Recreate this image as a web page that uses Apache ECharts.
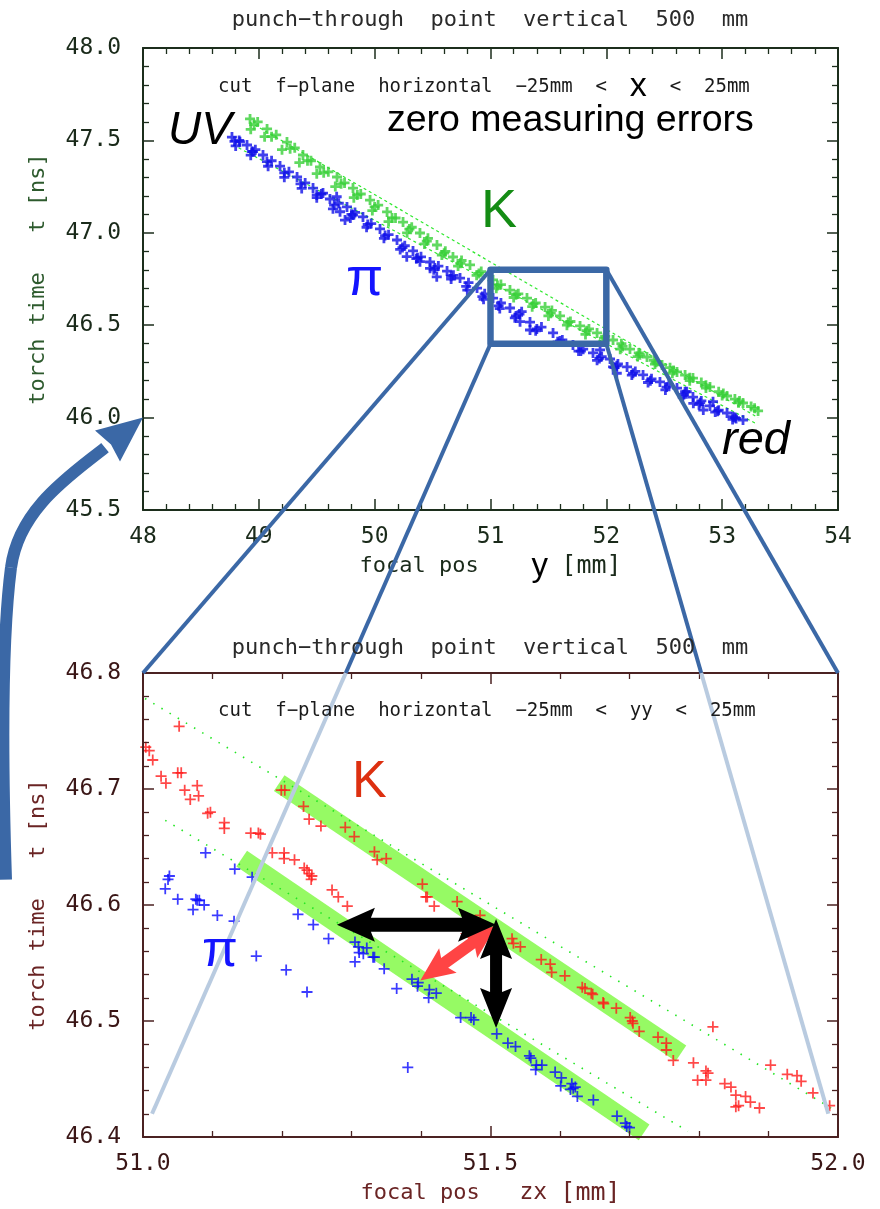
<!DOCTYPE html>
<html><head><meta charset="utf-8">
<script src="https://cdn.jsdelivr.net/npm/echarts@6/dist/echarts.min.js"></script>
<style>html,body{margin:0;padding:0;background:#fff}#c{width:880px;height:1209px}</style>
</head><body><div id="c"></div>
<script>
// ---------- DATA (top chart: full range, focal pos y) ----------
const kTopMain = [[48.924,47.616],[49.071,47.562],[49.243,47.491],[49.381,47.421],[49.528,47.356],[49.675,47.302],[49.813,47.242],[49.960,47.177],[50.107,47.113],[50.245,47.058],[50.391,46.999],[50.538,46.934],[50.676,46.869],[50.823,46.826],[51.022,46.745],[51.168,46.690],[51.315,46.647],[51.471,46.598],[51.600,46.550],[51.773,46.496],[51.920,46.458],[52.058,46.420],[52.204,46.371],[52.351,46.328],[52.481,46.285],[52.610,46.247],[52.748,46.214],[52.895,46.166],[53.042,46.117],[53.180,46.079],[53.310,46.036]];
const kTopFill = [[48.99,47.60],[49.15,47.53],[49.31,47.46],[49.45,47.39],[49.60,47.33],[49.74,47.27],[49.88,47.21],[50.03,47.15],[50.18,47.08],[50.32,47.03],[50.46,46.97],[50.61,46.90],[50.75,46.85],[50.92,46.79],[51.09,46.72],[51.24,46.67],[51.39,46.62],[51.53,46.58],[51.69,46.52],[51.85,46.48],[51.99,46.44],[52.13,46.40],[52.28,46.35],[52.41,46.31],[52.55,46.27],[52.68,46.23],[52.82,46.19],[52.97,46.14],[53.11,46.10],[53.25,46.06]];
const kTopMid = [[48.96,47.585],[49.11,47.52],[49.27,47.455],[49.42,47.39],[49.56,47.325],[49.71,47.265],[49.85,47.205],[50.00,47.14],[50.15,47.08],[50.30,47.02],[50.45,46.955],[50.60,46.89],[50.74,46.835],[50.90,46.78],[51.06,46.715],[51.22,46.665],[51.37,46.615],[51.52,46.565],[51.67,46.515],[51.83,46.47],[51.98,46.43],[52.14,46.385],[52.29,46.34],[52.43,46.30],[52.58,46.255],[52.72,46.215],[52.86,46.175],[53.01,46.13],[53.15,46.09],[53.28,46.05]];
const kTopLower = [[48.93,47.56],[49.05,47.52],[49.20,47.45],[49.35,47.38],[49.50,47.32],[49.66,47.25],[49.82,47.19],[49.98,47.12],[50.12,47.06],[50.28,47.00],[50.43,46.94],[50.58,46.88],[50.72,46.82],[50.88,46.77],[51.05,46.70],[51.20,46.65],[51.36,46.60],[51.50,46.55],[51.66,46.50],[51.82,46.45],[51.97,46.41],[52.12,46.37],[52.27,46.33],[52.42,46.29],[52.57,46.24],[52.72,46.20],[52.86,46.16],[53.00,46.12],[53.14,46.08]];
const piTopMain = [[48.768,47.518],[48.898,47.475],[49.036,47.421],[49.183,47.361],[49.330,47.302],[49.468,47.242],[49.614,47.183],[49.761,47.140],[49.899,47.086],[50.046,47.021],[50.193,46.961],[50.331,46.902],[50.478,46.842],[50.625,46.793],[50.737,46.755],[50.884,46.701],[51.022,46.647],[51.168,46.593],[51.341,46.517],[51.540,46.458],[51.712,46.393],[51.885,46.350],[52.032,46.317],[52.179,46.274],[52.317,46.231],[52.463,46.193],[52.610,46.160],[52.748,46.111],[52.895,46.063],[53.042,46.025],[53.180,45.987]];
const piTopFill = [[48.83,47.50],[48.97,47.45],[49.11,47.39],[49.26,47.33],[49.40,47.27],[49.54,47.21],[49.69,47.16],[49.83,47.11],[49.97,47.05],[50.12,46.99],[50.26,46.93],[50.40,46.87],[50.55,46.82],[50.68,46.77],[50.81,46.73],[50.95,46.67],[51.09,46.62],[51.25,46.56],[51.44,46.49],[51.62,46.42],[51.80,46.37],[51.96,46.33],[52.10,46.29],[52.25,46.25],[52.39,46.21],[52.54,46.18],[52.68,46.14],[52.82,46.09],[52.97,46.04],[53.11,46.00]];
const piTopMid = [[48.79,47.495],[48.94,47.44],[49.07,47.385],[49.22,47.325],[49.36,47.265],[49.50,47.205],[49.65,47.15],[49.80,47.10],[49.94,47.045],[50.09,46.985],[50.24,46.92],[50.37,46.865],[50.52,46.81],[50.66,46.765],[50.79,46.71],[50.93,46.655],[51.07,46.605],[51.22,46.55],[51.40,46.48],[51.60,46.415],[51.78,46.36],[51.94,46.32],[52.09,46.28],[52.23,46.24],[52.38,46.20],[52.52,46.165],[52.67,46.125],[52.81,46.08],[52.96,46.035],[53.12,45.995]];
const piTopLower = [[48.80,47.47],[48.93,47.42],[49.08,47.36],[49.22,47.30],[49.37,47.24],[49.50,47.19],[49.64,47.13],[49.79,47.08],[49.93,47.03],[50.08,46.97],[50.22,46.91],[50.36,46.86],[50.51,46.80],[50.66,46.75],[50.80,46.69],[50.94,46.64],[51.08,46.59],[51.21,46.54],[51.39,46.47],[51.58,46.41],[51.76,46.36],[51.92,46.31],[52.07,46.27],[52.22,46.23],[52.36,46.19],[52.51,46.15],[52.66,46.11],[52.80,46.07],[52.94,46.03],[53.09,45.99]];
const piTopOut = [[48.950,47.439],[48.837,47.493],[49.554,47.215],[49.672,47.195],[49.744,47.069],[49.701,47.114],[49.813,47.096],[50.277,46.871],[50.391,46.844],[50.536,46.762],[50.478,46.808],[51.255,46.519],[51.341,46.474],[51.269,46.573],[51.946,46.366],[52.058,46.275],[52.090,46.240],[52.694,46.140],[52.751,46.077],[52.837,46.041],[52.921,46.086],[53.094,46.005]];
const topGuide1 = [[48.78,47.475],[53.30,45.965]];
const topGuide2 = [[48.92,47.60],[53.31,46.00]];
const zoomBox = [[51,46.8],[52,46.8],[52,46.4],[51,46.4],[51,46.8]];

// ---------- DATA (bottom chart: zoom 51-52 mm, focal pos zx) ----------
const kZoom = [[51.052,46.754],[51.004,46.736],[51.009,46.733],[51.014,46.725],[51.026,46.711],[51.033,46.705],[51.050,46.714],[51.055,46.714],[51.060,46.699],[51.078,46.703],[51.080,46.694],[51.068,46.691],[51.093,46.679],[51.097,46.680],[51.117,46.671],[51.117,46.666],[51.155,46.662],[51.166,46.662],[51.169,46.661],[51.186,46.645],[51.203,46.645],[51.203,46.640],[51.218,46.639],[51.232,46.632],[51.236,46.630],[51.239,46.627],[51.243,46.625],[51.242,46.622],[51.272,46.613],[51.281,46.607],[51.294,46.599],
 [51.199,46.699],[51.204,46.699],[51.231,46.685],[51.239,46.674],[51.256,46.668],[51.291,46.667],[51.304,46.659],[51.333,46.646],[51.337,46.639],[51.350,46.640],[51.402,46.618],[51.407,46.607],[51.409,46.607],[51.419,46.599],[51.452,46.603],[51.485,46.591],[51.531,46.571],[51.533,46.567],[51.543,46.564],[51.573,46.553],[51.586,46.549],[51.588,46.542],[51.607,46.539],[51.632,46.529],[51.636,46.528],[51.645,46.524],[51.647,46.523],[51.662,46.516],[51.663,46.515],[51.681,46.511],[51.701,46.503],[51.704,46.500],[51.705,46.498],[51.714,46.491],[51.741,46.486],[51.753,46.481],[51.753,46.475],[51.763,46.466],
 [51.792,46.464],[51.820,46.495],[51.810,46.457],[51.813,46.455],[51.798,46.449],[51.810,46.449],[51.837,46.446],[51.846,46.443],[51.853,46.436],[51.867,46.435],[51.874,46.430],[51.853,46.426],[51.857,46.427],[51.887,46.425],[51.903,46.462],[51.927,46.454],[51.941,46.453],[51.947,46.448],[51.964,46.438],[51.988,46.427]];
const piZoom = [[51.090,46.645],[51.132,46.631],[51.157,46.624],[51.038,46.625],[51.036,46.622],[51.032,46.614],[51.050,46.605],[51.076,46.605],[51.078,46.604],[51.081,46.604],[51.088,46.600],[51.072,46.596],[51.107,46.591],[51.131,46.586],[51.223,46.592],[51.245,46.583],[51.267,46.571],[51.305,46.568],[51.310,46.564],[51.311,46.559],[51.322,46.563],[51.317,46.558],[51.305,46.551],[51.331,46.555],[51.333,46.555],[51.347,46.545],[51.163,46.556],[51.206,46.544],[51.236,46.525],[51.365,46.528],[51.387,46.536],[51.396,46.533],[51.395,46.530],[51.412,46.527],[51.422,46.524],[51.411,46.520],[51.381,46.460],[51.457,46.503],[51.472,46.503],[51.476,46.501],[51.509,46.489],[51.525,46.481],[51.536,46.478],[51.556,46.470],[51.558,46.468],[51.566,46.462],[51.565,46.458],[51.574,46.462],[51.593,46.456],[51.602,46.451],[51.601,46.444],[51.617,46.446],[51.619,46.442],[51.615,46.441],[51.622,46.443],[51.625,46.435],[51.648,46.432],[51.682,46.418],[51.694,46.412],[51.696,46.409],[51.700,46.408]];
const kBand = [[51.196,46.705],[51.774,46.472]];
const piBand = [[51.142,46.640],[51.721,46.404]];
const guide1 = [[51.003,46.778],[51.990,46.425]];
const guide2 = [[51.032,46.673],[51.784,46.405]];
const arrowH = [[51.279,46.583],[51.508,46.583]];
const arrowV = [[51.508,46.588],[51.508,46.494]];
const arrowR = [[51.508,46.582],[51.399,46.535]];
// connectors: zoom box corners (top chart) -> points of the bottom chart
const connFrom = [[51,46.8],[51,46.4],[52,46.4],[52,46.8]];
const connTo = [[51.0,46.8],[51.013,46.42],[51.986,46.42],[52.0,46.8]];

// ---------- TICK LABELS ----------
const fmt1 = v => v.toFixed(1);
const fmt0 = v => v.toFixed(0);

const MONO = '"DejaVu Sans Mono", monospace';
const SANS = '"Liberation Sans", Arial, sans-serif';
const TOPC = '#1c2e1c', BOTC = '#4b2222';
const PLUS = 'path://M4.2,0H5.8V4.2H10V5.8H5.8V10H4.2V5.8H0V4.2H4.2Z';
const PLUSB = 'path://M3.6,0H6.4V3.6H10V6.4H6.4V10H3.6V6.4H0V3.6H3.6Z';

function ax(o) {
  return {
    type: 'value', gridIndex: o.g, min: o.min, max: o.max, interval: o.iv, position: o.pos,
    axisLine: {show: true, onZero: false, lineStyle: {color: o.c, width: 2}},
    axisTick: {show: true, inside: true, length: 11, lineStyle: {color: o.c, width: 1.5}},
    minorTick: {show: true, splitNumber: 5, length: 6, lineStyle: {color: o.c, width: 1.3}},
    splitLine: {show: false}, minorSplitLine: {show: false},
    axisLabel: {show: !!o.label, color: o.lc, fontFamily: MONO, fontSize: 23, margin: o.margin || 14, formatter: o.fmt,
      showMinLabel: true, showMaxLabel: true},
    name: o.name || '', nameLocation: 'middle', nameGap: o.gap || 0, nameTextStyle: o.nts || {},
    z: 10
  };
}

const chart = echarts.init(document.getElementById('c'), null, {renderer: 'canvas'});

const option = {
  animation: false,
  backgroundColor: '#fff',
  grid: [
    {left: 143, top: 48, width: 695, height: 462},
    {left: 143, top: 673, width: 695, height: 464}
  ],
  xAxis: [
    ax({g: 0, min: 48, max: 54, iv: 1, pos: 'bottom', c: TOPC, label: true, lc: '#1a2a1a', fmt: fmt0, margin: 16,
        name: 'focal pos    {b|y} {c|[mm]}', gap: 40,
        nts: {fontFamily: MONO, fontSize: 22, color: '#1a2a1a',
              rich: {b: {fontFamily: SANS, fontSize: 33, color: '#000'}, c: {fontFamily: MONO, fontSize: 25, color: '#1a2a1a'}}}}),
    ax({g: 0, min: 48, max: 54, iv: 1, pos: 'top', c: TOPC}),
    ax({g: 1, min: 51, max: 52, iv: 0.5, pos: 'bottom', c: BOTC, label: true, lc: '#3a1616', fmt: fmt1, margin: 16,
        name: 'focal pos   {z|zx} {c|[mm]}', gap: 44,
        nts: {fontFamily: MONO, fontSize: 22, color: '#6a2424',
              rich: {z: {fontFamily: MONO, fontSize: 23, color: '#6a2424'}, c: {fontFamily: MONO, fontSize: 25, color: '#6a2424'}}}}),
    ax({g: 1, min: 51, max: 52, iv: 0.5, pos: 'top', c: BOTC})
  ],
  yAxis: [
    ax({g: 0, min: 45.5, max: 48, iv: 0.5, pos: 'left', c: TOPC, label: true, lc: '#1a2a1a', fmt: fmt1, margin: 22,
        name: 'torch time   t [ns]', gap: 94, nts: {fontFamily: MONO, fontSize: 22, color: '#2d5a2d'}}),
    ax({g: 0, min: 45.5, max: 48, iv: 0.5, pos: 'right', c: TOPC}),
    ax({g: 1, min: 46.4, max: 46.8, iv: 0.1, pos: 'left', c: BOTC, label: true, lc: '#3a1616', fmt: fmt1, margin: 22,
        name: 'torch time   t [ns]', gap: 94, nts: {fontFamily: MONO, fontSize: 22, color: '#6a2424'}}),
    ax({g: 1, min: 46.4, max: 46.8, iv: 0.1, pos: 'right', c: BOTC})
  ],
  series: [
    // top chart
    {type: 'line', xAxisIndex: 0, yAxisIndex: 0, data: topGuide1, showSymbol: false, silent: true, z: 1,
     lineStyle: {color: '#2ee82e', width: 1.2, type: [3, 3]}},
    {type: 'line', xAxisIndex: 0, yAxisIndex: 0, data: topGuide2, showSymbol: false, silent: true, z: 1,
     lineStyle: {color: '#2ee82e', width: 1.2, type: [3, 3]}},
    {type: 'scatter', xAxisIndex: 0, yAxisIndex: 0, data: kTopMain.concat(kTopFill, kTopMid, kTopLower), symbol: PLUSB, symbolSize: 10,
     itemStyle: {color: '#38d038'}, z: 3},
    {type: 'scatter', xAxisIndex: 0, yAxisIndex: 0, data: piTopMain.concat(piTopFill, piTopMid, piTopLower, piTopOut), symbol: PLUSB, symbolSize: 10,
     itemStyle: {color: '#1010e8'}, z: 4},
    {type: 'line', xAxisIndex: 0, yAxisIndex: 0, data: zoomBox, showSymbol: false, silent: true, z: 20,
     lineStyle: {color: '#3b68a6', width: 6.5, join: 'round', cap: 'round'}},
    // bottom chart
    {type: 'line', xAxisIndex: 2, yAxisIndex: 2, data: kBand, showSymbol: false, silent: true, z: 1,
     lineStyle: {color: '#96fa64', width: 19, cap: 'butt'}},
    {type: 'line', xAxisIndex: 2, yAxisIndex: 2, data: piBand, showSymbol: false, silent: true, z: 1,
     lineStyle: {color: '#96fa64', width: 19, cap: 'butt'}},
    {type: 'line', xAxisIndex: 2, yAxisIndex: 2, data: guide1, showSymbol: false, silent: true, z: 2,
     lineStyle: {color: '#22e622', width: 1.6, type: [1.5, 8]}},
    {type: 'line', xAxisIndex: 2, yAxisIndex: 2, data: guide2, showSymbol: false, silent: true, z: 2,
     lineStyle: {color: '#22e622', width: 1.6, type: [1.5, 8]}},
    {type: 'scatter', xAxisIndex: 2, yAxisIndex: 2, data: kZoom, symbol: PLUS, symbolSize: 11,
     itemStyle: {color: '#ff1a1a'}, z: 5},
    {type: 'scatter', xAxisIndex: 2, yAxisIndex: 2, data: piZoom, symbol: PLUS, symbolSize: 11,
     itemStyle: {color: '#0a0aff'}, z: 5}
  ]
};
chart.setOption(option);

// ---------- overlays computed through the chart's own coordinate systems ----------
const P0 = p => chart.convertToPixel({gridIndex: 0}, p);
const P1 = p => chart.convertToPixel({gridIndex: 1}, p);

function dblArrow(a, b, shaft, head, len) {
  const dx = b[0] - a[0], dy = b[1] - a[1], L = Math.hypot(dx, dy);
  const ux = dx / L, uy = dy / L, nx = -uy, ny = ux;
  const b1 = [a[0] + ux * len, a[1] + uy * len], b2 = [b[0] - ux * len, b[1] - uy * len];
  const pt = (p, s, k) => [p[0] + nx * s + ux * k, p[1] + ny * s + uy * k];
  return [a, pt(b1, head, 4), pt(b1, shaft, 0), pt(b2, shaft, 0), pt(b2, head, -4), b,
          pt(b2, -head, -4), pt(b2, -shaft, 0), pt(b1, -shaft, 0), pt(b1, -head, 4)];
}

const g = [];
// connector lines
const splitY = P1([51, 46.8])[1];
for (let i = 0; i < connFrom.length; i++) {
  const a = P0(connFrom[i]), b = P1(connTo[i]);
  if (b[1] > splitY + 1) {
    const t = (splitY - a[1]) / (b[1] - a[1]);
    const m = [a[0] + (b[0] - a[0]) * t, splitY];
    g.push({type: 'line', z: 30, silent: true, shape: {x1: a[0], y1: a[1], x2: m[0], y2: m[1]}, style: {stroke: '#3b68a6', lineWidth: 4}});
    g.push({type: 'line', z: 30, silent: true, shape: {x1: m[0], y1: m[1], x2: b[0], y2: b[1]}, style: {stroke: '#b9cbe0', lineWidth: 4}});
  } else {
    g.push({type: 'line', z: 30, silent: true, shape: {x1: a[0], y1: a[1], x2: b[0], y2: b[1]}, style: {stroke: '#3b68a6', lineWidth: 4}});
  }
}
// arrows in the zoomed chart
g.push({type: 'polygon', z: 40, silent: true, shape: {points: dblArrow(P1(arrowR[0]), P1(arrowR[1]), 6, 15, 30)}, style: {fill: '#ff4444'}});
g.push({type: 'polygon', z: 41, silent: true, shape: {points: dblArrow(P1(arrowH[0]), P1(arrowH[1]), 7, 17, 34)}, style: {fill: '#000'}});
g.push({type: 'polygon', z: 41, silent: true, shape: {points: dblArrow(P1(arrowV[0]), P1(arrowV[1]), 6, 16, 36)}, style: {fill: '#000'}});

// big curved arrow pointing at t = 46.0 on the top chart axis
const tip = P0([48.0, 46.0]);
const T = (dx, dy) => [tip[0] + dx, tip[1] + dy];
const c1 = [T(-137, 462), T(-141, 340), T(-141, 220), T(-132, 150)];
const c2 = [T(-132, 150), T(-124, 90), T(-70, 56), T(-38, 30)];
g.push({type: 'bezierCurve', z: 30, silent: true,
  shape: {x1: c1[0][0], y1: c1[0][1], cpx1: c1[1][0], cpy1: c1[1][1], cpx2: c1[2][0], cpy2: c1[2][1], x2: c1[3][0], y2: c1[3][1]},
  style: {stroke: '#3b68a6', lineWidth: 12, fill: null}});
g.push({type: 'bezierCurve', z: 30, silent: true,
  shape: {x1: c2[0][0], y1: c2[0][1], cpx1: c2[1][0], cpy1: c2[1][1], cpx2: c2[2][0], cpy2: c2[2][1], x2: c2[3][0], y2: c2[3][1]},
  style: {stroke: '#3b68a6', lineWidth: 12, fill: null}});
g.push({type: 'polygon', z: 31, silent: true, shape: {points: [T(0, 0), T(-23, 44), T(-32, 27), T(-48, 13)]}, style: {fill: '#3b68a6'}});

// texts
function txt(x, y, text, font, fill, extra) {
  return {type: 'text', x: x, y: y, z: 50, silent: true,
    style: Object.assign({text: text, font: font, fill: fill, align: 'left', verticalAlign: 'middle',
      textAlign: 'left', textVerticalAlign: 'middle'}, extra || {})};
}
const M = '"DejaVu Sans Mono"';
g.push(txt(490, 20, 'punch\u2212through  point  vertical  500  mm', '22px ' + M, '#2a2a2a', {align: 'center', textAlign: 'center'}));
g.push(txt(490, 648, 'punch\u2212through  point  vertical  500  mm', '22px ' + M, '#2a2a2a', {align: 'center', textAlign: 'center'}));
g.push(txt(218, 87, 'cut  f\u2212plane  horizontal  \u221225mm  <  {X|x}  <  25mm', '19px ' + M, '#1a1a1a',
  {rich: {X: {font: '34px "Liberation Sans"', fill: '#000'}}}));
g.push(txt(218, 711, 'cut  f\u2212plane  horizontal  \u221225mm  <  yy  <  25mm', '19px ' + M, '#1a1a1a'));
g.push(txt(387, 121, 'zero measuring errors', '37.5px "Liberation Sans"', '#000'));
g.push(txt(168, 131, 'UV', 'italic 46px "Liberation Sans"', '#000'));
g.push(txt(722, 441, 'red', 'italic 47px "Liberation Sans"', '#000'));
g.push(txt(481, 212, 'K', '54px "Liberation Sans"', '#148c14'));
g.push(txt(346, 280, '\u03c0', '54px "Liberation Sans"', '#1414ff'));
g.push(txt(352, 783, 'K', '52px "Liberation Sans"', '#dd3010'));
g.push(txt(202, 952, '\u03c0', '52px "Liberation Sans"', '#1414ff'));

chart.setOption({graphic: {elements: g}});
</script>
</body></html>
